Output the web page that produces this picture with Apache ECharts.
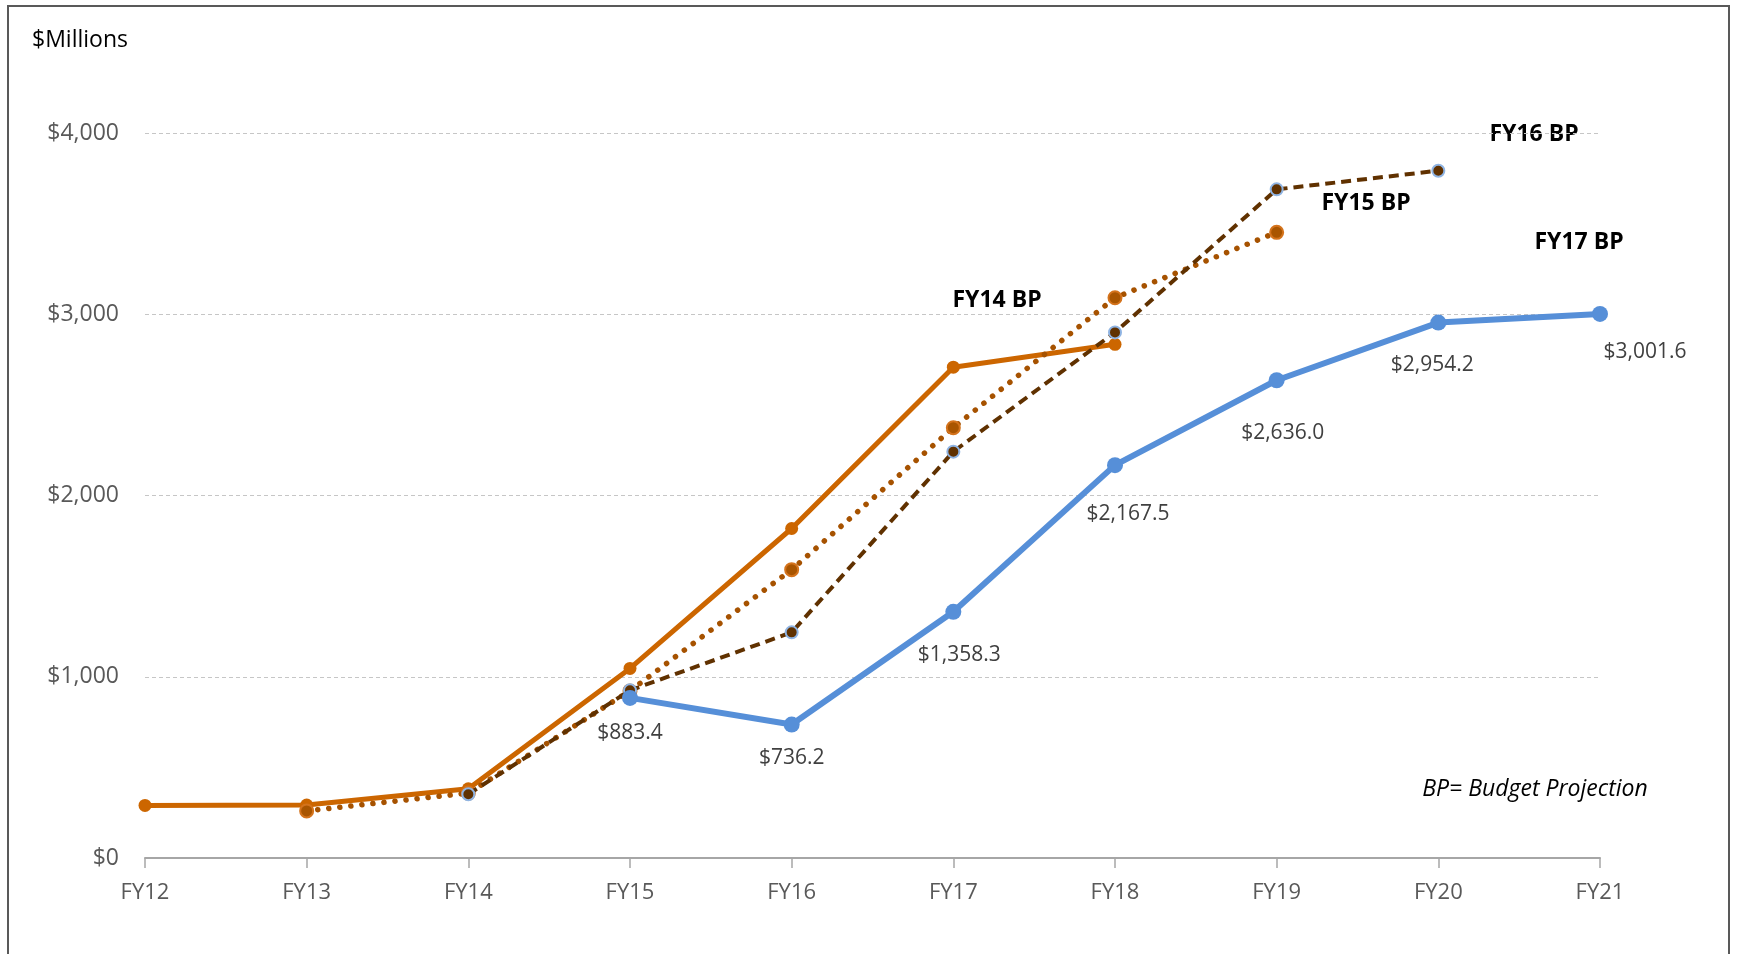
<!DOCTYPE html>
<html>
<head>
<meta charset="utf-8">
<script src="https://cdn.jsdelivr.net/npm/echarts@6/dist/echarts.min.js"></script>
<style>
  html, body { margin: 0; padding: 0; background: #fff; }
  #chart { width: 1741px; height: 954px; }
</style>
</head>
<body>
<div id="chart"></div>
<script>
// fiscal years on the x axis
const categories = ['FY12', 'FY13', 'FY14', 'FY15', 'FY16', 'FY17', 'FY18', 'FY19', 'FY20', 'FY21']
// budget projections, $ millions (null = not in that projection)
const fy14BP = [290, 292, 382, 1046, 1818, 2708, 2834, null, null, null]
const fy15BP = [null, 260, 358, 922, 1591, 2374, 3091, 3452, null, null]
const fy16BP = [null, null, 352, 925, 1245, 2242, 2900, 3689, 3792, null]
const fy17BP = [null, null, null, 883.4, 736.2, 1358.3, 2167.5, 2636.0, 2954.2, 3001.6]
const yTicks = [0, 1000, 2000, 3000, 4000]

// small nudges for the FY17 value labels (px)
const labelNudge = [null, null, null, [0, -1], [0, -3], [6, 7], [13, 12], [6, 16], [-6, 6], [45, 2]]

const FONT = '"Open Sans", "Noto Sans", sans-serif'
const money = (v, d) => '$' + v.toLocaleString('en-US', { minimumFractionDigits: d, maximumFractionDigits: d })

const chart = echarts.init(document.getElementById('chart'))

const option = {
  backgroundColor: '#fff',
  animation: false,
  grid: { left: 145, right: 141, top: 133, bottom: 96 },
  xAxis: {
    type: 'category',
    data: categories,
    boundaryGap: false,
    axisLine: { lineStyle: { color: '#a6a6a6', width: 2 } },
    axisTick: { show: true, length: 10, alignWithLabel: true, lineStyle: { color: '#a6a6a6', width: 1.5 } },
    axisLabel: { color: '#595959', fontSize: 22, fontFamily: FONT, margin: 24 },
    splitLine: { show: false }
  },
  yAxis: {
    type: 'value',
    min: yTicks[0],
    max: yTicks[yTicks.length - 1],
    interval: 1000,
    axisLine: { show: false },
    axisTick: { show: false },
    axisLabel: {
      color: '#595959', fontSize: 23, fontFamily: FONT, margin: 26,
      formatter: (v) => money(v, 0)
    },
    splitLine: { lineStyle: { color: '#c6c6c6', width: 1, type: [4, 3] } }
  },
  series: [
    {
      name: 'FY14 BP',
      type: 'line',
      data: fy14BP,
      symbol: 'circle',
      symbolSize: 13,
      lineStyle: { color: '#cc6600', width: 5 },
      itemStyle: { color: '#cc6600' },
      z: 2
    },
    {
      name: 'FY15 BP',
      type: 'line',
      data: fy15BP,
      symbol: 'circle',
      symbolSize: 13,
      lineStyle: { color: '#a65200', width: 5.5, type: [0.1, 11], cap: 'round' },
      itemStyle: { color: '#a95500', borderColor: '#d4731c', borderWidth: 2 },
      z: 3
    },
    {
      name: 'FY16 BP',
      type: 'line',
      data: fy16BP,
      symbol: 'circle',
      symbolSize: 12,
      lineStyle: { color: '#603100', width: 4, type: [10, 6] },
      itemStyle: { color: '#603100', borderColor: '#8fb4e3', borderWidth: 2 },
      z: 4
    },
    {
      name: 'FY17 BP',
      type: 'line',
      data: fy17BP.map((v, i) => v === null ? null : {
        value: v,
        label: { offset: labelNudge[i] || [0, 0] }
      }),
      symbol: 'circle',
      symbolSize: 16,
      lineStyle: { color: '#568fd8', width: 6 },
      itemStyle: { color: '#568fd8' },
      label: {
        show: true,
        position: 'bottom',
        distance: 18,
        color: '#404040',
        fontSize: 21,
        fontFamily: FONT,
        formatter: (p) => money(p.value, 1)
      },
      z: 5
    }
  ],
  graphic: [
    {
      type: 'rect',
      shape: { x: 8, y: 6, width: 1721, height: 1000 },
      style: { fill: 'none', stroke: '#595959', lineWidth: 2 },
      silent: true
    },
    {
      type: 'text', x: 32, y: 40,
      style: { text: '$Millions', font: '23px ' + FONT, fill: '#000', align: 'left', verticalAlign: 'middle' }
    },
    {
      type: 'text', x: 997, y: 300,
      style: { text: 'FY14 BP', font: 'bold 23px ' + FONT, fill: '#000', align: 'center', verticalAlign: 'middle' }
    },
    {
      type: 'text', x: 1366, y: 203,
      style: { text: 'FY15 BP', font: 'bold 23px ' + FONT, fill: '#000', align: 'center', verticalAlign: 'middle' }
    },
    {
      type: 'text', x: 1534, y: 134,
      style: { text: 'FY16 BP', font: 'bold 23px ' + FONT, fill: '#000', align: 'center', verticalAlign: 'middle' }
    },
    {
      type: 'text', x: 1579, y: 242,
      style: { text: 'FY17 BP', font: 'bold 23px ' + FONT, fill: '#000', align: 'center', verticalAlign: 'middle' }
    },
    {
      type: 'text', x: 1535, y: 789,
      style: { text: 'BP= Budget Projection', font: 'italic 23px ' + FONT, fill: '#000', align: 'center', verticalAlign: 'middle' }
    }
  ]
}

option && chart.setOption(option)
window.addEventListener('resize', () => {
  chart.resize()
})
</script>
</body>
</html>
